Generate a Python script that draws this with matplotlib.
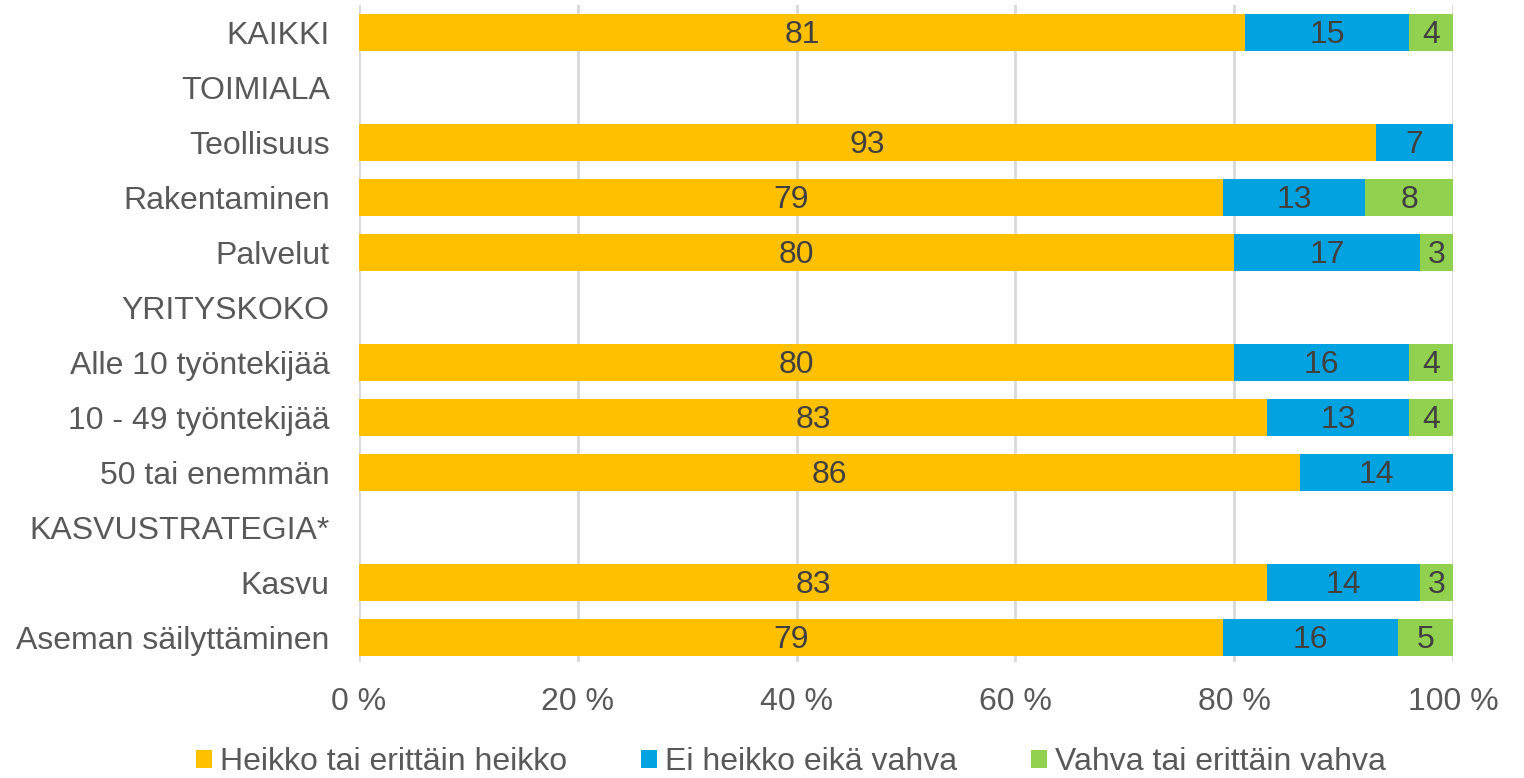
import matplotlib
matplotlib.use("Agg")
import matplotlib.pyplot as plt
import numpy as np

categories = ["KAIKKI", "TOIMIALA", "Teollisuus", "Rakentaminen", "Palvelut",
              "YRITYSKOKO", "Alle 10 työntekijää", "10 - 49 työntekijää",
              "50 tai enemmän", "KASVUSTRATEGIA*", "Kasvu", "Aseman säilyttäminen"]
heikko = [81, 0, 93, 79, 80, 0, 80, 83, 86, 0, 83, 79]
ei_heikko = [15, 0, 7, 13, 17, 0, 16, 13, 14, 0, 14, 16]
vahva = [4, 0, 0, 8, 3, 0, 4, 4, 0, 0, 3, 5]
series_names = ["Heikko tai erittäin heikko", "Ei heikko eikä vahva", "Vahva tai erittäin vahva"]
colors = ["#FFC000", "#00A2E0", "#92D050"]
xticks = [0, 20, 40, 60, 80, 100]
xticklabels = ["0 %", "20 %", "40 %", "60 %", "80 %", "100 %"]

plt.rcParams['font.family'] = ['Liberation Sans', 'DejaVu Sans']
FS = 23

fig = plt.figure(figsize=(15.24, 7.78), dpi=100)
ax = fig.add_axes([359/1524, 1-662/778, (1453-359)/1524, (662-5)/778])

y = np.arange(len(categories))
left = np.zeros(len(categories))
handles = []
for vals, name, c in zip([heikko, ei_heikko, vahva], series_names, colors):
    vals = np.array(vals, dtype=float)
    b = ax.barh(y, vals, left=left, height=0.67, color=c, label=name, zorder=3)
    handles.append(b)
    for yi, (l, v) in enumerate(zip(left, vals)):
        if v > 0:
            ax.text(l + v/2, yi + 0.05, f"{int(v)}", ha="center", va="center",
                    fontsize=FS, color="#404040", zorder=4)
    left += vals

ax.set_xlim(0, 100)
ax.set_ylim(11.45, -0.5)
ax.set_yticks(y)
ax.set_yticklabels(categories, fontsize=FS, color="#595959")
ax.set_xticks(xticks)
ax.set_xticklabels(xticklabels, fontsize=FS, color="#595959")
ax.tick_params(axis="both", length=0)
ax.tick_params(axis="y", pad=21)
ax.tick_params(axis="x", pad=18)
for s in ax.spines.values():
    s.set_visible(False)
ax.grid(axis="x", color="#D9D9D9", linewidth=2, zorder=0)
ax.set_axisbelow(True)

fig.legend(handles=handles, labels=series_names, loc="center", bbox_to_anchor=(0.519, 1-762/778),
           ncol=3, frameon=False, fontsize=FS, labelcolor="#595959",
           handlelength=0.5, handleheight=0.5, handletextpad=0.25, columnspacing=2.3)

fig.savefig("out.png", dpi=100)
